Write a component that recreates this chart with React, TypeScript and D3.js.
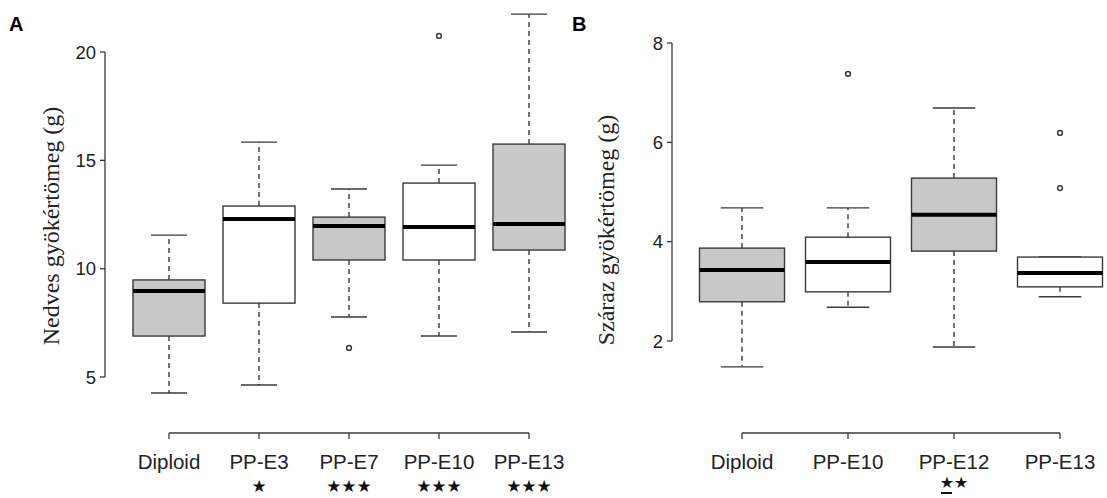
import React from "react";
import * as d3 from "d3";

// Panel A data
const catsA = ["Diploid", "PP-E3", "PP-E7", "PP-E10", "PP-E13"];
const lowA = [4.26, 4.63, 7.77, 6.89, 7.08];
const q1A = [6.89, 8.41, 10.40, 10.40, 10.86];
const medA = [8.97, 12.29, 11.97, 11.92, 12.06];
const q3A = [9.48, 12.89, 12.38, 13.95, 15.75];
const highA = [11.55, 15.84, 13.68, 14.78, 21.75];
const outA: number[][] = [[], [], [6.34], [20.74], []];
const fillA = [true, false, true, false, true];
const starsA = ["", "★", "★★★", "★★★", "★★★"];
const ticksA = [5, 10, 15, 20];

// Panel B data
const catsB = ["Diploid", "PP-E10", "PP-E12", "PP-E13"];
const lowB = [1.48, 2.68, 1.88, 2.89];
const q1B = [2.79, 2.99, 3.81, 3.09];
const medB = [3.43, 3.59, 4.54, 3.37];
const q3B = [3.87, 4.09, 5.28, 3.69];
const highB = [4.68, 4.68, 6.69, 3.69];
const outB: number[][] = [[], [7.38], [], [6.19, 5.08]];
const fillB = [true, false, true, false];
const starsB = ["", "", "★★", ""];
const ticksB = [2, 4, 6, 8];

const GRAY = "#c8c8c8";
const LINE = "#3a3a3a";

type PanelProps = {
  cats: string[]; low: number[]; q1: number[]; med: number[]; q3: number[]; high: number[];
  outs: number[][]; fills: boolean[]; stars: string[]; ticks: number[];
  x0: number; x1: number; yDom: [number, number]; yRange: [number, number];
  axisX: number; boxW: number; yLabel: string; labelX: number; labelY: number;
  letter: string; letterX: number; underline?: boolean;
};

function Panel(p: PanelProps) {
  const x = d3.scalePoint<string>().domain(p.cats).range([p.x0, p.x1]);
  const y = d3.scaleLinear().domain(p.yDom).range(p.yRange);
  const tMin = d3.min(p.ticks)!, tMax = d3.max(p.ticks)!;
  const xAxisY = 433;
  const hw = p.boxW / 2;
  return (
    <g>
      <text x={p.letterX} y={31} fontFamily="Liberation Sans, Arial, sans-serif" fontWeight="bold" fontSize={20}>{p.letter}</text>
      {/* y axis */}
      <line x1={p.axisX} x2={p.axisX} y1={y(tMin)} y2={y(tMax)} stroke={LINE} strokeWidth={1.3} />
      {p.ticks.map(t => (
        <g key={t}>
          <line x1={p.axisX - 5} x2={p.axisX} y1={y(t)} y2={y(t)} stroke={LINE} strokeWidth={1.3} />
          <text x={p.axisX - 9} y={y(t)} dy="0.36em" textAnchor="end" fontFamily="Liberation Sans, Arial, sans-serif" fontSize={18.5} fill="#222">{t}</text>
        </g>
      ))}
      <text transform={`translate(${p.labelX},${p.labelY}) rotate(-90)`} textAnchor="middle" fontFamily="Liberation Serif, Times New Roman, serif" fontSize={24} fill="#222">{p.yLabel}</text>
      {/* x axis */}
      <line x1={x(p.cats[0])} x2={x(p.cats[p.cats.length - 1])} y1={xAxisY} y2={xAxisY} stroke={LINE} strokeWidth={1.3} />
      {p.cats.map((c, i) => (
        <g key={c}>
          <line x1={x(c)} x2={x(c)} y1={xAxisY} y2={xAxisY + 6} stroke={LINE} strokeWidth={1.3} />
          <text x={x(c)} y={469} textAnchor="middle" fontFamily="Liberation Sans, Arial, sans-serif" fontSize={20.5} fill="#222">{c}</text>
          {p.stars[i] && (
            <text x={x(c)} y={p.underline ? 488 : 492} textAnchor="middle" fontFamily="DejaVu Sans, sans-serif" fontSize={p.underline ? 16 : 17} fill="#111">{p.stars[i]}</text>
          )}
          {p.underline && p.stars[i] && (
            <line x1={x(c)! - 13} x2={x(c)! - 2} y1={493} y2={493} stroke="#111" strokeWidth={2} />
          )}
        </g>
      ))}
      {/* boxes */}
      {p.cats.map((c, i) => {
        const cx = x(c)!;
        return (
          <g key={"b" + c}>
            <line x1={cx} x2={cx} y1={y(p.q3[i])} y2={y(p.high[i])} stroke={LINE} strokeWidth={1.4} strokeDasharray="5,4" />
            <line x1={cx} x2={cx} y1={y(p.q1[i])} y2={y(p.low[i])} stroke={LINE} strokeWidth={1.4} strokeDasharray="5,4" />
            <line x1={cx - hw / 2} x2={cx + hw / 2} y1={y(p.high[i])} y2={y(p.high[i])} stroke={LINE} strokeWidth={1.4} />
            <line x1={cx - hw / 2} x2={cx + hw / 2} y1={y(p.low[i])} y2={y(p.low[i])} stroke={LINE} strokeWidth={1.4} />
            <rect x={cx - hw} width={p.boxW} y={y(p.q3[i])} height={y(p.q1[i]) - y(p.q3[i])} fill={p.fills[i] ? GRAY : "#fff"} stroke={LINE} strokeWidth={1.4} />
            <line x1={cx - hw} x2={cx + hw} y1={y(p.med[i])} y2={y(p.med[i])} stroke="#000" strokeWidth={4} />
            {p.outs[i].map((o, k) => (
              <circle key={k} cx={cx} cy={y(o)} r={2.4} fill="none" stroke={LINE} strokeWidth={1.5} />
            ))}
          </g>
        );
      })}
    </g>
  );
}

export default function App() {
  return (
    <svg width={1107} height={498} style={{ position: "absolute", left: 0, top: 0, background: "#fff" }}>
      <rect width={1107} height={498} fill="#fff" />
      <Panel cats={catsA} low={lowA} q1={q1A} med={medA} q3={q3A} high={highA} outs={outA} fills={fillA}
        stars={starsA} ticks={ticksA} x0={169} x1={529} yDom={[5, 20]} yRange={[377, 52]} axisX={105}
        boxW={72} yLabel="Nedves gyökértömeg (g)" labelX={59} labelY={226} letter="A" letterX={9} />
      <Panel cats={catsB} low={lowB} q1={q1B} med={medB} q3={q3B} high={highB} outs={outB} fills={fillB}
        stars={starsB} ticks={ticksB} x0={742} x1={1060} yDom={[2, 8]} yRange={[341, 43]} axisX={672}
        boxW={85} yLabel="Száraz gyökértömeg (g)" labelX={614} labelY={230} letter="B" letterX={572} underline />
    </svg>
  );
}
